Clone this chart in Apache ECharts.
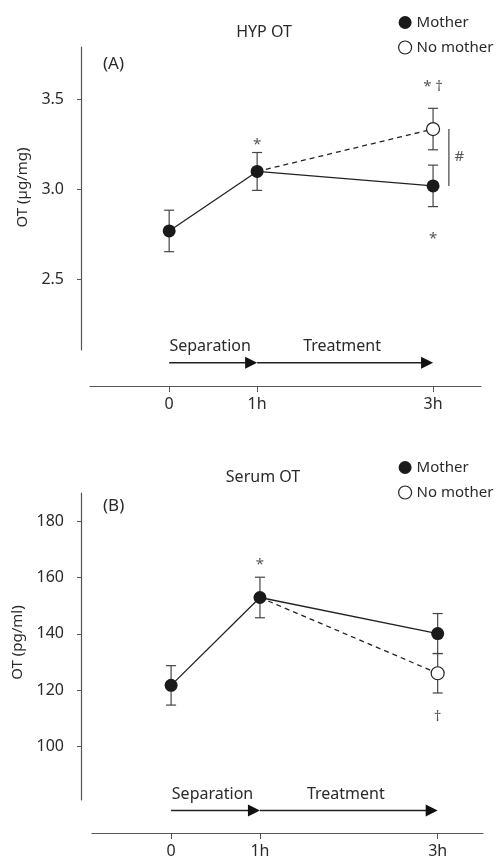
<!DOCTYPE html>
<html>
<head>
<meta charset="utf-8">
<script src="https://cdn.jsdelivr.net/npm/echarts@6/dist/echarts.min.js"></script>
<style>
    html, body { margin: 0; padding: 0; background: #fff; }
    #chart { width: 500px; height: 861px; }
</style>
</head>
<body>
<div id="chart"></div>
<script>
// time points (h) and tick labels
var xTicks = [0, 1, 3];
var xTickLabels = ['0', '1h', '3h'];

// (A) HYP OT, ug/mg
var motherTimeA = [0, 1, 3];
var motherA = [2.77, 3.10, 3.02];
var motherErrA = [0.115, 0.105, 0.115];
var noMotherTimeA = [1, 3];
var noMotherA = [3.10, 3.335];
var noMotherErrA = [0, 0.115];
var yTicksA = [2.5, 3.0, 3.5];

// (B) Serum OT, pg/ml
var motherTimeB = [0, 1, 3];
var motherB = [121.7, 152.9, 140.1];
var motherErrB = [7, 7.2, 7.1];
var noMotherTimeB = [1, 3];
var noMotherB = [152.9, 126];
var noMotherErrB = [0, 7];
var yTicksB = [100, 120, 140, 160, 180];

// phases drawn as arrows under each plot
var phases = [[0, 1, 'Separation'], [1, 3, 'Treatment']];

var FONT = '"Noto Sans", "DejaVu Sans", sans-serif';
var TEXT = '#2a2a2a';
var AXIS = '#555';

var myChart = echarts.init(document.getElementById('chart'));

function errData(times, vals, errs) {
    var out = [];
    times.forEach(function(t, i) {
        if (errs[i] > 0) out.push([t, vals[i] - errs[i], vals[i] + errs[i]]);
    });
    return out;
}

function pairs(times, vals) {
    return times.map(function(t, i) {
        return [t, vals[i]];
    });
}

// vertical line with optional caps
function vLine(cap) {
    return function(params, api) {
        var top = api.coord([api.value(0), api.value(2)]);
        var bot = api.coord([api.value(0), api.value(1)]);
        var st = { stroke: '#444', lineWidth: 1.2 };
        var children = [{ type: 'line', shape: { x1: top[0], y1: top[1], x2: bot[0], y2: bot[1] }, style: st }];
        if (cap) {
            children.push({ type: 'line', shape: { x1: top[0] - cap, y1: top[1], x2: top[0] + cap, y2: top[1] }, style: st });
            children.push({ type: 'line', shape: { x1: bot[0] - cap, y1: bot[1], x2: bot[0] + cap, y2: bot[1] }, style: st });
        }
        return { type: 'group', children: children };
    };
}

function arrowItem(level) {
    return function(params, api) {
        var p0 = api.coord([api.value(0), level]);
        var p1 = api.coord([api.value(1), level]);
        return {
            type: 'group',
            children: [{
                type: 'line',
                shape: { x1: p0[0], y1: p0[1], x2: p1[0] - 10, y2: p1[1] },
                style: { stroke: '#222', lineWidth: 1.5 }
            }, {
                type: 'polygon',
                shape: { points: [[p1[0] - 12, p1[1] - 6], [p1[0], p1[1]], [p1[0] - 12, p1[1] + 6]] },
                style: { fill: '#111' }
            }, {
                type: 'text',
                x: (p0[0] + p1[0]) / 2 - 3,
                y: p1[1] - 16,
                style: {
                    text: api.value(2),
                    textAlign: 'center',
                    textVerticalAlign: 'middle',
                    fontSize: 16,
                    fontFamily: FONT,
                    fill: TEXT
                }
            }]
        };
    };
}

function xAxisOpt(idx, min, max, offset) {
    return {
        gridIndex: idx,
        type: 'value',
        position: 'bottom',
        min: min,
        max: max,
        offset: offset,
        splitLine: { show: false },
        axisLine: { onZero: false, lineStyle: { color: AXIS, width: 1.2 } },
        axisTick: { length: 6, lineStyle: { color: AXIS }, customValues: xTicks },
        axisLabel: {
            customValues: xTicks,
            margin: 10,
            fontSize: 16,
            fontFamily: FONT,
            color: TEXT,
            formatter: function(v) {
                return xTickLabels[xTicks.indexOf(v)];
            }
        }
    };
}

function yAxisOpt(idx, min, max, offset, ticks, name, namePad) {
    return {
        gridIndex: idx,
        type: 'value',
        position: 'left',
        min: min,
        max: max,
        offset: offset,
        name: name,
        nameLocation: 'middle',
        nameGap: 50,
        nameTextStyle: { fontSize: 15, fontFamily: FONT, color: TEXT, padding: [0, 0, 0, namePad] },
        splitLine: { show: false },
        axisLine: { show: true, onZero: false, lineStyle: { color: AXIS, width: 1.2 } },
        axisTick: { show: true, length: 4, lineStyle: { color: AXIS }, customValues: ticks },
        axisLabel: {
            customValues: ticks,
            margin: 17,
            fontSize: 16,
            fontFamily: FONT,
            color: TEXT,
            formatter: function(v) {
                return idx === 0 ? v.toFixed(1) : String(v);
            }
        }
    };
}

function panelSeries(idx, mT, mV, mE, nT, nV, nE, arrowLevel, notes, bracket) {
    var list = [{
        type: 'custom',
        xAxisIndex: idx,
        yAxisIndex: idx,
        renderItem: vLine(5),
        data: errData(mT, mV, mE).concat(errData(nT, nV, nE)),
        z: 1,
        silent: true
    }, {
        name: 'No mother',
        type: 'line',
        xAxisIndex: idx,
        yAxisIndex: idx,
        data: pairs(nT, nV).map(function(p, i) {
            return i === 0 ? { value: p, symbol: 'none' } : p;
        }),
        symbol: 'circle',
        symbolSize: 13,
        lineStyle: { color: '#222', width: 1.3, type: [5, 4] },
        itemStyle: { color: '#fff', borderColor: '#222', borderWidth: 1.2 },
        z: 3
    }, {
        name: 'Mother',
        type: 'line',
        xAxisIndex: idx,
        yAxisIndex: idx,
        data: pairs(mT, mV),
        symbol: 'circle',
        symbolSize: 13,
        lineStyle: { color: '#222', width: 1.3 },
        itemStyle: { color: '#1a1a1a' },
        z: 4
    }, {
        type: 'custom',
        xAxisIndex: idx,
        yAxisIndex: idx,
        renderItem: arrowItem(arrowLevel),
        clip: false,
        data: phases,
        silent: true
    }, {
        type: 'scatter',
        xAxisIndex: idx,
        yAxisIndex: idx,
        symbolSize: 0,
        data: notes,
        label: {
            show: true,
            position: 'inside',
            fontSize: 15,
            fontFamily: FONT,
            color: TEXT,
            formatter: function(p) {
                return p.data[2];
            }
        },
        silent: true
    }];
    if (bracket) {
        list.push({
            type: 'custom',
            xAxisIndex: idx,
            yAxisIndex: idx,
            renderItem: vLine(0),
            data: [bracket],
            silent: true
        });
    }
    return list;
}

// significance marks: [x, y, text]
var notesA = [[1, 3.25, '*'], [3, 3.57, '* †'], [3, 2.725, '*'], [3.30, 3.18, '#']];
var notesB = [[1, 164.5, '*'], [3, 110.5, '†']];

function legendOpt(top) {
    return {
        orient: 'vertical',
        left: 393,
        top: top,
        icon: 'circle',
        itemWidth: 13,
        itemHeight: 13,
        itemGap: 10,
        textStyle: { fontSize: 15, fontFamily: FONT, color: TEXT },
        data: [
            { name: 'Mother', itemStyle: { color: '#1a1a1a', borderWidth: 0 } },
            { name: 'No mother', itemStyle: { color: '#fff', borderColor: '#222', borderWidth: 1.2 } }
        ]
    };
}

var option = {
    backgroundColor: '#fff',
    animation: false,
    textStyle: { fontFamily: FONT },
    title: [
        { text: 'HYP OT', left: 259, top: 19, textAlign: 'center', textStyle: { fontSize: 16, fontWeight: 'normal', color: TEXT, fontFamily: FONT } },
        { text: '(A)', left: 98, top: 51, textStyle: { fontSize: 17, fontWeight: 'normal', color: TEXT, fontFamily: FONT } },
        { text: 'Serum OT', left: 258, top: 464, textAlign: 'center', textStyle: { fontSize: 16, fontWeight: 'normal', color: TEXT, fontFamily: FONT } },
        { text: '(B)', left: 98, top: 493, textStyle: { fontSize: 17, fontWeight: 'normal', color: TEXT, fontFamily: FONT } }
    ],
    legend: [legendOpt(10), legendOpt(455)],
    grid: [
        { left: 90, right: 19, top: 47, height: 303 },
        { left: 92, right: 17, top: 493, height: 307 }
    ],
    xAxis: [
        xAxisOpt(0, -0.9, 3.545, 36),
        xAxisOpt(1, -0.89, 3.51, 33)
    ],
    yAxis: [
        yAxisOpt(0, 2.11, 3.79, 9, yTicksA, 'OT (µg/mg)', 22),
        yAxisOpt(1, 81, 190, 11, yTicksB, 'OT (pg/ml)', 8)
    ],
    series: panelSeries(0, motherTimeA, motherA, motherErrA, noMotherTimeA, noMotherA, noMotherErrA, 2.039, notesA, [3.18, 3.02, 3.335])
        .concat(panelSeries(1, motherTimeB, motherB, motherErrB, noMotherTimeB, noMotherB, noMotherErrB, 77.3, notesB, null))
};

myChart.setOption(option);
</script>
</body>
</html>
